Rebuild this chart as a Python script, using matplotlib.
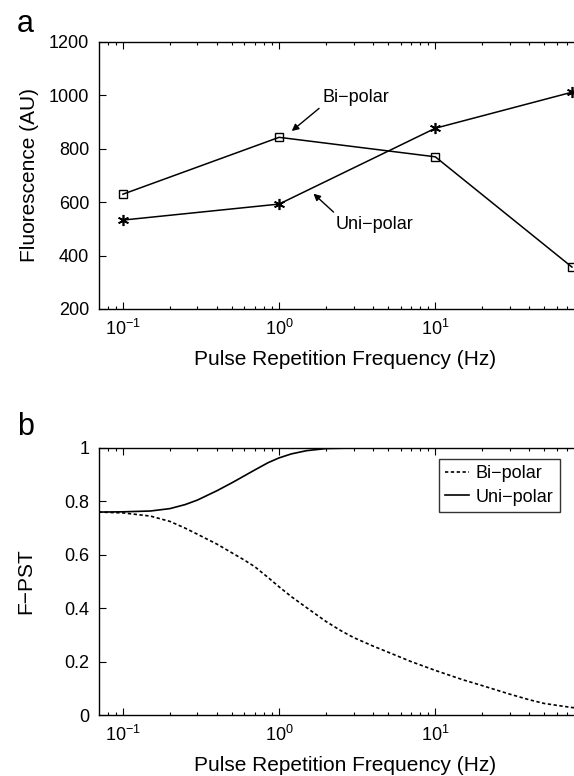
import matplotlib.pyplot as plt
import matplotlib.ticker as ticker
import numpy as np

plt.rcParams['font.family'] = ['Liberation Sans', 'DejaVu Sans']
plt.rcParams['mathtext.fontset'] = 'custom'
plt.rcParams['mathtext.rm'] = 'Liberation Sans'
plt.rcParams['mathtext.it'] = 'Liberation Sans:italic'

# panel a : measured fluorescence
freq_a = [0.1, 1, 10, 75]
bipolar_a = [630, 843, 770, 357]
unipolar_a = [533, 593, 877, 1012]

# panel b : F-PST model curves
freq_bi = [0.07, 0.1, 0.15, 0.2, 0.25, 0.3, 0.4, 0.5, 0.6, 0.7, 0.85, 1, 1.2, 1.5, 2, 2.5, 3, 4, 5, 7,
           10, 15, 20, 30, 40, 50, 75, 100]
fpst_bi = [0.760, 0.757, 0.745, 0.725, 0.70, 0.677, 0.64, 0.607, 0.58, 0.555, 0.515, 0.48, 0.443, 0.402,
           0.35, 0.315, 0.29, 0.258, 0.235, 0.2, 0.167, 0.132, 0.11, 0.078, 0.057, 0.043, 0.028, 0.022]
freq_uni = [0.07, 0.1, 0.15, 0.2, 0.25, 0.3, 0.4, 0.5, 0.6, 0.7, 0.85, 1, 1.2, 1.5, 2, 3, 5, 10, 20, 50, 100]
fpst_uni = [0.760, 0.761, 0.764, 0.773, 0.788, 0.805, 0.84, 0.87, 0.896, 0.918, 0.945, 0.963, 0.978,
            0.99, 0.998, 1, 1, 1, 1, 1, 1]

W, H = 574, 776
fig = plt.figure(figsize=(W / 100, H / 100), dpi=100)

x0 = 99 / W
wid = (591.5 - 99) / W   # axis runs past the right edge of the picture
hgt = (309 - 42) / H
ax1 = fig.add_axes([x0, 1 - 309 / H, wid, hgt])
ax2 = fig.add_axes([x0, 1 - 715 / H, wid, hgt])


def style(ax):
    ax.set_xscale('log')
    ax.set_xlim(0.0703, 100)
    ax.set_xticks([0.1, 1, 10])
    ax.xaxis.set_minor_locator(ticker.LogLocator(base=10, subs=np.arange(2, 10)))
    ax.tick_params(which='both', direction='in', top=True, right=False, labelsize=13, width=0.8)
    ax.tick_params(which='major', length=5, pad=7)
    ax.tick_params(which='minor', length=2.5)
    ax.tick_params(axis='y', which='minor', left=False)
    for s in ax.spines.values():
        s.set_linewidth(1.0)
    ax.set_xlabel('Pulse Repetition Frequency (Hz)', fontsize=15, labelpad=8)


style(ax1)
ax1.plot(freq_a, bipolar_a, '-', color='k', lw=1.1, marker='s', ms=6, mfc='none', mew=1.0, clip_on=False)
ax1.plot(freq_a, unipolar_a, '-', color='k', lw=1.1, marker=(6, 2, 0), ms=8, mew=1.2, clip_on=False)
ax1.set_ylim(200, 1200)
ax1.set_yticks([200, 400, 600, 800, 1000, 1200])
ax1.set_ylabel('Fluorescence (AU)', fontsize=15, labelpad=7)

ax1.annotate('', xy=(1.167, 860), xytext=(1.86, 958),
             arrowprops=dict(arrowstyle='-|>', color='k', lw=1.0, mutation_scale=10))
ax1.text(1.9, 994, 'Bi\u2212polar', fontsize=13, ha='left', va='center')
ax1.annotate('', xy=(1.61, 639), xytext=(2.3, 556),
             arrowprops=dict(arrowstyle='-|>', color='k', lw=1.0, mutation_scale=10))
ax1.text(2.3, 518, 'Uni\u2212polar', fontsize=13, ha='left', va='center')

style(ax2)
ax2.plot(freq_bi, fpst_bi, color='k', lw=1.2, dashes=(2, 1.5), label='Bi\u2212polar')
ax2.plot(freq_uni, fpst_uni, '-', color='k', lw=1.2, label='Uni\u2212polar')
ax2.set_ylim(0, 1)
ax2.set_yticks([0, 0.2, 0.4, 0.6, 0.8, 1])
ax2.yaxis.set_major_formatter(ticker.FormatStrFormatter('%g'))
ax2.set_ylabel('F\u2212PST', fontsize=15, labelpad=21)

leg = ax2.legend(loc='upper right', bbox_to_anchor=(560 / W, 1 - 459 / H), bbox_transform=fig.transFigure,
                 fontsize=13, frameon=True, fancybox=False, handlelength=1.3, handletextpad=0.4,
                 borderpad=0.35, labelspacing=0.35, borderaxespad=0)
leg.get_frame().set_edgecolor('k')
leg.get_frame().set_linewidth(1.0)

fig.text(17 / W, 1 - 32 / H, 'a', fontsize=22, ha='left', va='baseline')
fig.text(17 / W, 1 - 435 / H, 'b', fontsize=22, ha='left', va='baseline')

fig.savefig('out.png', dpi=100)
